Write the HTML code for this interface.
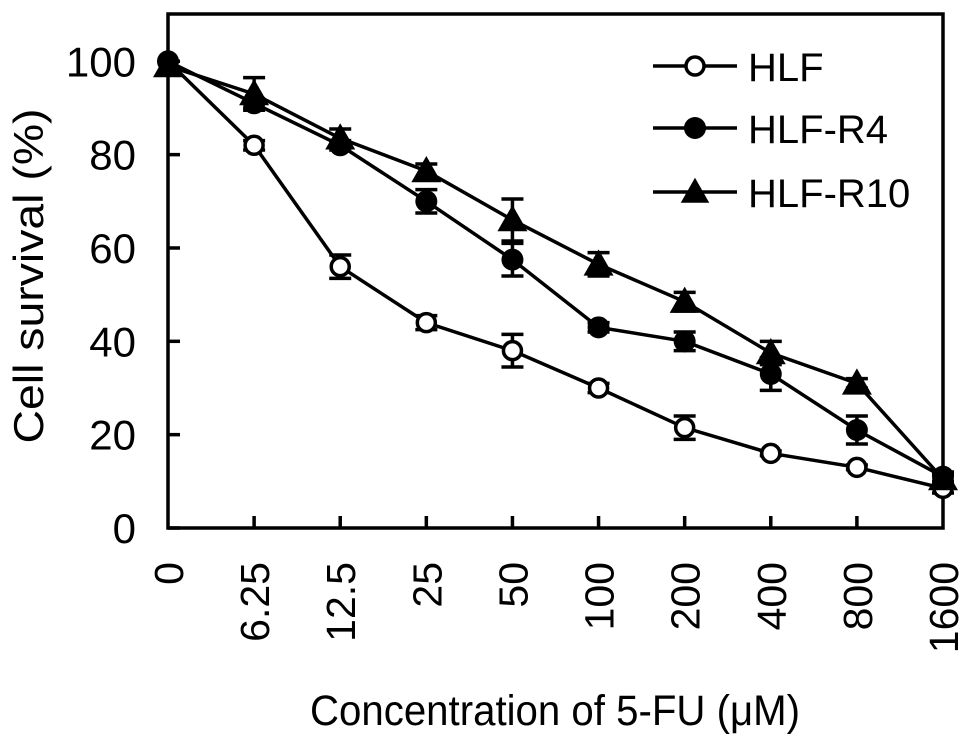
<!DOCTYPE html>
<html><head><meta charset="utf-8"><style>
body{margin:0;background:#fff}
svg text{font-family:"Liberation Sans",Arial,sans-serif;fill:#000}
</style></head><body>
<svg id="chart" width="969" height="749" viewBox="0 0 969 749" xmlns="http://www.w3.org/2000/svg"></svg>
<script>
const categories = ["0","6.25","12.5","25","50","100","200","400","800","1600"];
const yTicks = [0,20,40,60,80,100];
const hlf = [100,82,56,44,38,30,21.5,16,13,8.5];
const hlfErr = [0,1,2.5,1.5,3.5,1,2.5,0.5,0.5,1];
const r4 = [100,91,82,70,57.5,43,40,33,21,11];
const r4Err = [0,1,1,2.5,3.5,1,2,3.5,3,1];
const r10 = [99,93,83.5,76.5,66,56.5,48.5,37.5,31,10.5];
const r10Err = [0,3.5,2,1.5,4.5,2.5,2,2.5,1,1];

const NS="http://www.w3.org/2000/svg";
const svg=document.getElementById('chart');
const X0=168,X1=943,Y0=528,Y1=14;
const xs=i=>X0+i*(X1-X0)/(categories.length-1);
const ys=v=>Y0-v*4.667;
function mk(tag,attrs,parent){const e=document.createElementNS(NS,tag);for(const k in attrs)e.setAttribute(k,attrs[k]);(parent||svg).appendChild(e);return e;}

const frame=mk('rect',{x:X0,y:Y1,width:X1-X0,height:Y0-Y1,fill:'none',stroke:'#000','stroke-width':3.5});



yTicks.forEach(v=>{
  const t=mk('line',{x1:X0,x2:X0+12,y1:ys(v),y2:ys(v),stroke:'#000','stroke-width':3.5});
  
  
  const l=mk('text',{x:136,y:ys(v)+15,'text-anchor':'end','font-size':42});
  l.textContent=v;
  
  
});
categories.forEach((c,i)=>{
  if(i>0&&i<categories.length-1){
    const t=mk('line',{x1:xs(i),x2:xs(i),y1:Y0,y2:Y0-12,stroke:'#000','stroke-width':3.5});
    
    
  }
  const l=mk('text',{x:0,y:0,'text-anchor':'end','font-size':41,transform:`translate(${xs(i)+15},562) rotate(-90)`});
  l.textContent=c;
  
  
});

const yt=mk('text',{x:0,y:0,'text-anchor':'middle','font-size':42,textLength:335,lengthAdjust:'spacingAndGlyphs',transform:'translate(43,276) rotate(-90)'});
yt.textContent='Cell survival (%)';


const xt=mk('text',{x:310,y:725,'font-size':43,textLength:490,lengthAdjust:'spacingAndGlyphs'});
xt.textContent='Concentration of 5-FU (\u03bcM)';



function marker(type,x,y,g,s){
  if(type==='open') return mk('circle',{cx:x,cy:y,r:9*s,fill:'#fff',stroke:'#000','stroke-width':3.5},g);
  if(type==='dot') return mk('circle',{cx:x,cy:y,r:11*s,fill:'#000'},g);
  const h=15*s;return mk('polygon',{points:`${x},${y-h} ${x-h},${y+h*0.75} ${x+h},${y+h*0.75}`,fill:'#000'},g);
}
function series(name,vals,errs,type){
  const g=mk('g',{});
  
  
  const pl=mk('polyline',{points:vals.map((v,i)=>xs(i)+','+ys(v)).join(' '),fill:'none',stroke:'#000','stroke-width':3.5},g);
  
  
  vals.forEach((v,i)=>{
    const e=errs[i];
    if(e>0){
      const eb=mk('path',{d:`M${xs(i)},${ys(v+e)}V${ys(v-e)}M${xs(i)-11},${ys(v+e)}H${xs(i)+11}M${xs(i)-11},${ys(v-e)}H${xs(i)+11}`,stroke:'#000','stroke-width':3.5,fill:'none'},g);
      
      
    }
    const m=marker(type,xs(i),ys(v),g,1);
    
    
  });
}
series('hlf',hlf,hlfErr,'open');
series('hlf-r4',r4,r4Err,'dot');
series('hlf-r10',r10,r10Err,'tri');

const leg=[['HLF','open',66],['HLF-R4','dot',128],['HLF-R10','tri',192]];
leg.forEach(([lab,type,y])=>{
  const g=mk('g',{});
  
  
  mk('line',{x1:653,x2:737,y1:y,y2:y,stroke:'#000','stroke-width':3.5},g);
  marker(type,695,y,g,type==='tri'?0.95:1);
  const t=mk('text',{x:748,y:y+15,'font-size':40},g);
  t.textContent=lab;
});
</script>
</body></html>
